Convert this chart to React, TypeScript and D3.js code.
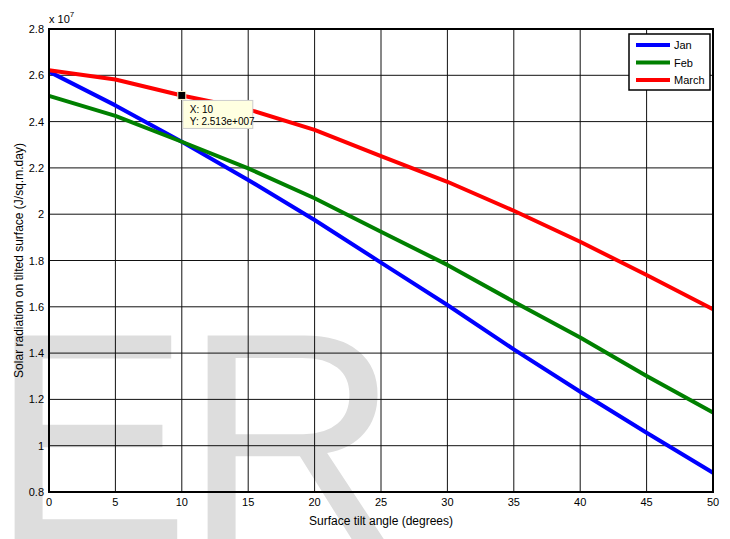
import React from "react";
import * as d3 from "d3";

const WIDTH = 730;
const HEIGHT = 539;
const MARGIN = { top: 29, right: 17, bottom: 47, left: 49 };

// surface tilt angle (degrees)
const ANGLES = [0, 5, 10, 15, 20, 25, 30, 35, 40, 45, 50];
// solar radiation on tilted surface, J/sq.m.day
const JAN = [2.616e7, 2.47e7, 2.313e7, 2.148e7, 1.975e7, 1.791e7, 1.608e7, 1.416e7, 1.233e7, 1.056e7, 0.883e7];
const FEB = [2.511e7, 2.425e7, 2.313e7, 2.198e7, 2.069e7, 1.924e7, 1.781e7, 1.622e7, 1.467e7, 1.301e7, 1.143e7];
const MARCH = [2.622e7, 2.582e7, 2.513e7, 2.453e7, 2.364e7, 2.251e7, 2.14e7, 2.015e7, 1.881e7, 1.737e7, 1.589e7];

const SERIES = [
  { name: "Jan", values: JAN, color: "#0000ff" },
  { name: "Feb", values: FEB, color: "#008000" },
  { name: "March", values: MARCH, color: "#ff0000" },
];

const X_TICKS = [0, 5, 10, 15, 20, 25, 30, 35, 40, 45, 50];
const Y_TICKS = [0.8e7, 1e7, 1.2e7, 1.4e7, 1.6e7, 1.8e7, 2e7, 2.2e7, 2.4e7, 2.6e7, 2.8e7];

const DATATIP = { x: 10, y: 2.513e7 };

const FONT = "'Liberation Sans', Arial, sans-serif";

export default function App() {
  const boundsWidth = WIDTH - MARGIN.left - MARGIN.right;
  const boundsHeight = HEIGHT - MARGIN.top - MARGIN.bottom;

  const xScale = d3.scaleLinear().domain([0, 50]).range([0, boundsWidth]);
  const yScale = d3.scaleLinear().domain([0.8e7, 2.8e7]).range([boundsHeight, 0]);

  const line = d3
    .line<number>()
    .x((_, i) => xScale(ANGLES[i]))
    .y((d) => yScale(d));

  const fmt = (v: number) => String(+(v / 1e7).toFixed(1));

  const tipX = xScale(DATATIP.x);
  const tipY = yScale(DATATIP.y);

  return (
    <svg
      width={WIDTH}
      height={HEIGHT}
      style={{ position: "absolute", left: 0, top: 0, background: "#fff" }}
      fontFamily={FONT}
    >
      {/* watermark */}
      <g fill="#dddddd" fontSize={300} fontFamily={FONT}>
        <text x={-10} y={542}>E</text>
        <text x={183} y={542}>R</text>
      </g>

      <g transform={`translate(${MARGIN.left},${MARGIN.top})`}>
        {/* grid */}
        {X_TICKS.map((t) => (
          <line key={`gx${t}`} x1={xScale(t)} x2={xScale(t)} y1={0} y2={boundsHeight} stroke="#111" strokeWidth={1} />
        ))}
        {Y_TICKS.map((t) => (
          <line key={`gy${t}`} x1={0} x2={boundsWidth} y1={yScale(t)} y2={yScale(t)} stroke="#111" strokeWidth={1} />
        ))}

        {/* series */}
        {SERIES.map((s) => (
          <path key={s.name} d={line(s.values) || ""} fill="none" stroke={s.color} strokeWidth={4} strokeLinejoin="round" />
        ))}

        {/* axes box */}
        <rect x={0} y={0} width={boundsWidth} height={boundsHeight} fill="none" stroke="#000" strokeWidth={2} />

        {/* tick labels */}
        {X_TICKS.map((t) => (
          <text key={`tx${t}`} x={xScale(t)} y={boundsHeight + 14} textAnchor="middle" fontSize={11} fill="#000">
            {t}
          </text>
        ))}
        {Y_TICKS.map((t) => (
          <text key={`ty${t}`} x={-5} y={yScale(t) + 4} textAnchor="end" fontSize={11} fill="#000">
            {fmt(t)}
          </text>
        ))}
        <text x={0} y={-6} fontSize={11} fill="#000">
          x 10
          <tspan dy={-6} fontSize={8}>7</tspan>
        </text>

        {/* axis labels */}
        <text x={boundsWidth / 2} y={boundsHeight + 33} textAnchor="middle" fontSize={12} fill="#000">
          Surface tilt angle (degrees)
        </text>
        <text
          transform={`translate(${-MARGIN.left + 23},${boundsHeight / 2}) rotate(-90)`}
          textAnchor="middle"
          fontSize={12}
          fill="#000"
        >
          Solar radiation on tilted surface (J/sq.m.day)
        </text>

        {/* legend */}
        <g transform={`translate(${boundsWidth - 84},5)`}>
          <rect x={0} y={0} width={81} height={56} fill="#fff" stroke="#000" strokeWidth={1.5} />
          {SERIES.map((s, i) => (
            <g key={s.name} transform={`translate(0,${11 + i * 17.5})`}>
              <line x1={7} x2={41} y1={0} y2={0} stroke={s.color} strokeWidth={4} />
              <text x={45} y={4} fontSize={11} fill="#000">{s.name}</text>
            </g>
          ))}
        </g>

        {/* data tip */}
        <g>
          <rect x={tipX + 1} y={tipY + 5} width={70} height={28} fill="#ffffe1" stroke="#cccccc" strokeWidth={1} />
          <text x={tipX + 8} y={tipY + 18} fontSize={10} fill="#000">X: 10</text>
          <text x={tipX + 8} y={tipY + 30} fontSize={10} fill="#000">Y: 2.513e+007</text>
          <rect x={tipX - 4} y={tipY - 4} width={8} height={8} fill="#000" stroke="#fff8d0" strokeWidth={1} />
        </g>
      </g>
    </svg>
  );
}
